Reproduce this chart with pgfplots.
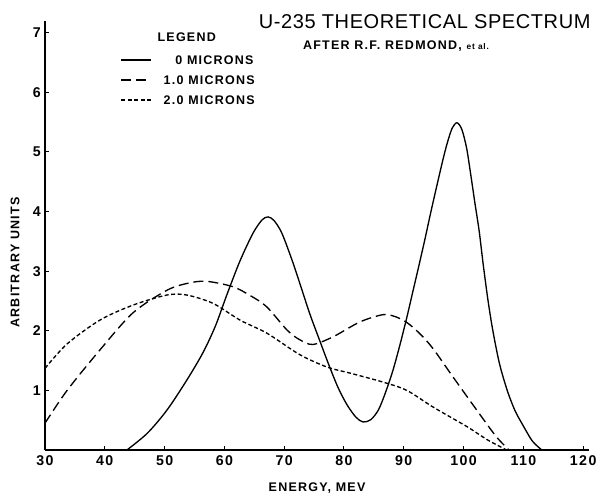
\documentclass[border=0pt]{standalone}
\usepackage{fontspec}
\setmainfont{Liberation Sans}
\newfontfamily\spaced[LetterSpace=12]{Liberation Sans}
\newfontfamily\spacedb[LetterSpace=10]{Liberation Sans Bold}
\newfontfamily\titlefont[LetterSpace=3]{Liberation Sans}
\usepackage{pgfplots}
\pgfplotsset{compat=1.18}
\begin{document}
\begin{tikzpicture}
\useasboundingbox (-27pt,-26.4pt) rectangle (333pt,270pt);
\begin{axis}[
  at={(0pt,0pt)}, anchor=south west, scale only axis,
  width=326.5pt, height=257.5pt,
  xmin=30, xmax=121, ymin=0, ymax=7.2,
  axis x line=bottom, axis y line=left,
  axis line style={-, line width=0.9pt},
  xtick={30,40,...,120}, ytick={1,...,7},
  tick align=inside, major tick length=2.5pt,
  tick style={line width=0.6pt, black},
  /pgf/number format/assume math mode=true,
  ticklabel style={font=\spacedb\fontsize{8.5}{10}\selectfont},
  yticklabel style={xshift=1pt},
  clip=false,
  xlabel={ENERGY, MEV},
  xlabel style={at={(axis description cs:0.5,-0.0888)}, anchor=center, font=\spacedb\fontsize{7.5}{9}\selectfont},
  ylabel={ARBITRARY UNITS},
  ylabel style={at={(axis description cs:-0.0551,0.437)}, anchor=center, font=\spacedb\fontsize{7.5}{9}\selectfont},
  legend image code/.code={\draw[#1] (0pt,0pt) -- (18pt,0pt);},
  legend style={at={(axis cs:42.6,6.21)}, anchor=west, draw=none, fill=none,
    font=\spacedb\fontsize{7.5}{9}\selectfont,
    nodes={inner sep=0pt, text height=5.5pt, text depth=0pt},
    row sep=6.5pt, column sep=7pt, inner sep=0pt},
  legend cell align=left,
]
\addplot[black, line width=0.8pt, smooth] coordinates {
(43.7,0) (47.1,0.28) (50.4,0.67) (53.7,1.17) (56.4,1.63) (58.5,2.08) (60.4,2.60)
(62.6,3.17) (64.8,3.64) (66.3,3.86) (67.3,3.91) (68.3,3.85) (69.6,3.64) (71.3,3.19)
(72.6,2.80) (74.3,2.28) (76.0,1.82) (77.5,1.42) (79.0,1.05) (80.5,0.76) (82.0,0.55)
(83.2,0.47) (84.5,0.51) (85.8,0.68) (87.0,0.98) (88.2,1.34) (89.4,1.78) (90.5,2.22)
(91.5,2.65) (92.5,3.08) (93.5,3.52) (94.5,3.98) (95.5,4.42) (96.5,4.85) (97.3,5.16)
(98.1,5.40) (98.9,5.49) (99.7,5.38) (100.5,5.07) (101.2,4.62) (101.9,4.14) (102.6,3.68)
(103.3,3.10) (104.1,2.50) (104.9,2.00) (106.0,1.45) (107.3,1.00) (108.6,0.66)
(109.9,0.42) (111.5,0.15) (113.1,0)
};
\addlegendentry{\phantom{1.}0 MICRONS}
\addplot[black, line width=0.8pt, smooth, dash pattern=on 6pt off 3pt] coordinates {
(30,0.45) (33.7,1.0) (39.2,1.68) (44.7,2.3) (50.4,2.68) (54,2.80) (57,2.83) (61.4,2.74)
(64.5,2.58) (67.1,2.40) (70.5,2.01) (72.6,1.85) (74.8,1.77) (78.2,1.90) (82.7,2.15)
(86.5,2.27) (88.5,2.24) (90.5,2.14) (92.7,1.95) (94.9,1.70) (98.2,1.23) (102.7,0.60)
(105.5,0.22) (107.6,0)
};
\addlegendentry{1.0 MICRONS}
\addplot[black, line width=0.8pt, smooth, dash pattern=on 2.4pt off 1.5pt] coordinates {
(30,1.37) (33.7,1.78) (39.2,2.18) (44.7,2.43) (50.4,2.60) (53.7,2.60) (58.1,2.46)
(62.6,2.18) (67.1,1.96) (72.6,1.60) (77.2,1.39) (81,1.29) (86.5,1.14) (90.5,1.0)
(94.9,0.72) (100.6,0.39) (104,0.17) (107.2,0)
};
\addlegendentry{2.0 MICRONS}
\node[font=\titlefont\fontsize{12}{14}\selectfont] at (axis cs:93.5,7.18) {U-235 THEORETICAL SPECTRUM};
\node[font=\spacedb\fontsize{7.5}{9}\selectfont] at (axis cs:88.7,6.78) {AFTER R.F. REDMOND, {\fontsize{5}{6}\selectfont et al.}};
\node[font=\spacedb\fontsize{7.5}{9}\selectfont] at (axis cs:53.7,6.93) {LEGEND};
\end{axis}
\end{tikzpicture}
\end{document}
